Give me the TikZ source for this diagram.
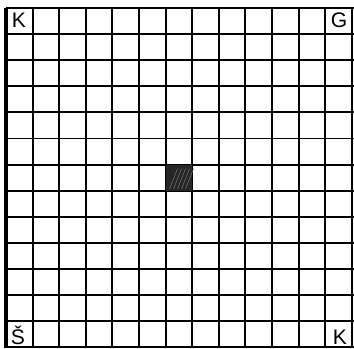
\documentclass[tikz,border=0pt]{standalone}
\usepackage{fontspec}
\setmainfont{Liberation Sans}
\usetikzlibrary{positioning}

\begin{document}
\begin{tikzpicture}[
    x=0.02cm, y=-0.02cm,
    gridline/.style={line width=1.1pt, black},
    corner/.style={font=\large, inner sep=0pt}
]
    \useasboundingbox (0,0) rectangle (354,348);
    % grid 13 x 13
    \foreach \i in {0,...,13} {
        \draw[gridline] ({6+26.6*\i},8) -- ({6+26.6*\i},348);
        \draw[gridline] (6,{8+26.1*\i}) -- (354,{8+26.1*\i});
    }
    \draw[line width=2.2pt] (6,8) -- (6,348);
    \draw[line width=1.6pt] (6,8) -- (354,8);
    % middle square
    \fill[black!85] ({6+26.6*6},{8+26.1*6}) rectangle ({6+26.6*7},{8+26.1*7});
    \foreach \k in {1,...,5}
        \draw[black!55, line width=0.3pt] ({6+26.6*6+4*\k},{8+26.1*7-2}) -- ({6+26.6*6+4*\k+8},{8+26.1*6+4});
    % labels
    \node[corner] (k1) at (19,20) {K};
    \node[corner] (g) at (339,20) {G};
    \node[corner] (s) at (18,335) {Š};
    \node[corner] (k2) at (340,337) {K};
\end{tikzpicture}
\end{document}
